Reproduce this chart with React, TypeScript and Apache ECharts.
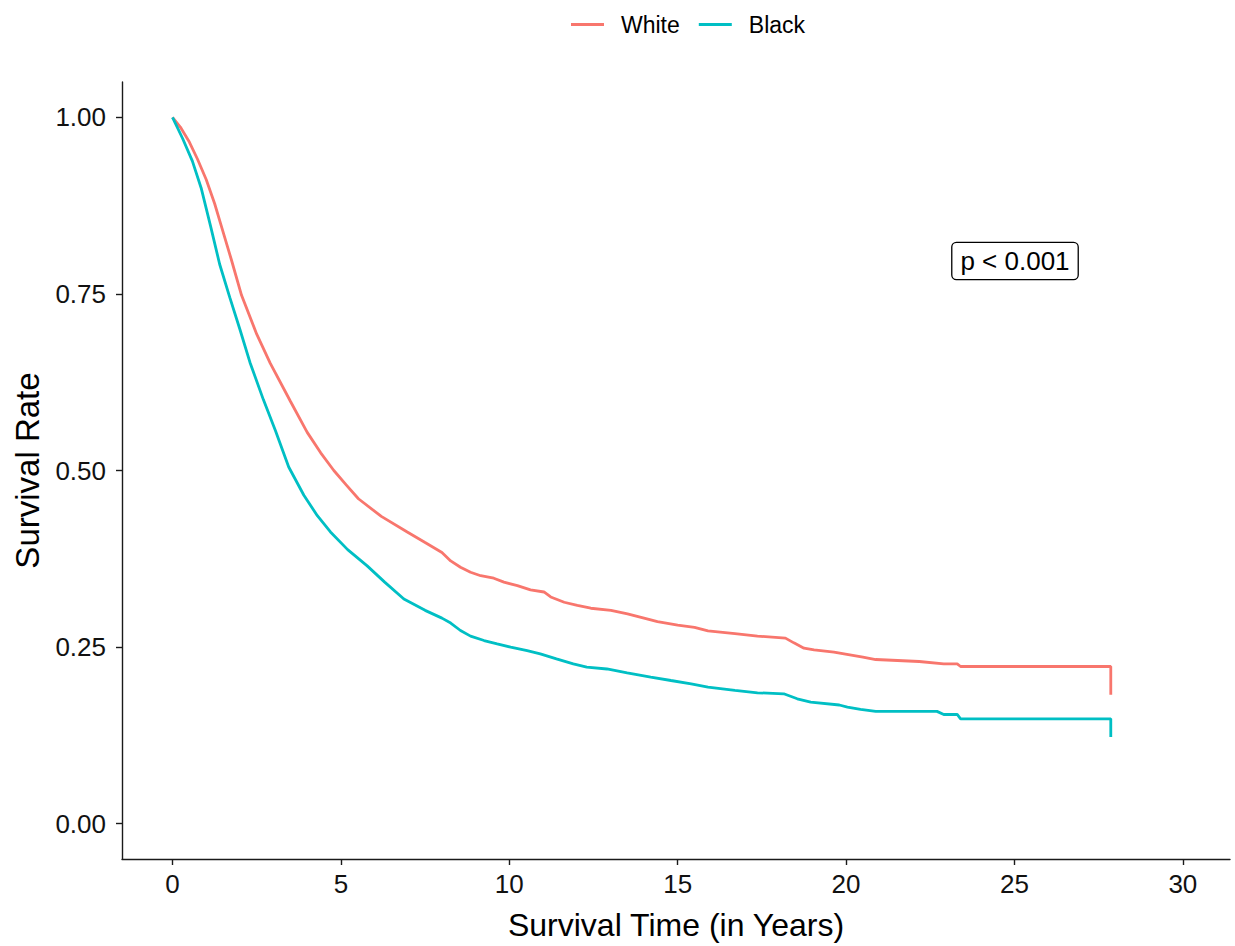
import React, { useEffect, useRef } from "react";
import * as echarts from "echarts";

const seriesNames = ["White", "Black"];
const seriesColors = ["#F8766D", "#00BFC4"];

const whiteTime = [0, 0.25, 0.5, 0.74, 1.0, 1.25, 1.45, 1.75, 2.05, 2.5, 2.9, 3.5, 4.0, 4.4, 4.79, 5.15, 5.52, 6.2, 6.97, 7.5, 8.0, 8.26, 8.55, 8.85, 9.15, 9.54, 9.84, 10.24, 10.63, 11.03, 11.23, 11.63, 12.02, 12.42, 13.02, 13.51, 14.0, 14.4, 15.0, 15.5, 15.9, 16.7, 17.37, 18.2, 18.45, 18.75, 19.05, 19.64, 19.94, 20.5, 20.88, 22.17, 22.9, 23.3, 23.4, 27.86, 27.86];
const whiteSurv = [1, 0.985, 0.965, 0.941, 0.912, 0.878, 0.846, 0.798, 0.748, 0.693, 0.652, 0.598, 0.554, 0.525, 0.5, 0.48, 0.46, 0.435, 0.413, 0.398, 0.384, 0.372, 0.363, 0.356, 0.351, 0.3475, 0.342, 0.337, 0.331, 0.328, 0.321, 0.3135, 0.309, 0.305, 0.302, 0.297, 0.291, 0.286, 0.281, 0.278, 0.273, 0.269, 0.2655, 0.2627, 0.256, 0.2485, 0.246, 0.243, 0.2405, 0.2357, 0.2324, 0.2296, 0.2263, 0.2263, 0.2225, 0.2225, 0.1825];

const blackTime = [0, 0.3, 0.59, 0.85, 1.13, 1.4, 1.7, 2.0, 2.3, 2.7, 3.06, 3.45, 3.9, 4.3, 4.69, 5.2, 5.78, 6.3, 6.87, 7.5, 8.0, 8.26, 8.55, 8.85, 9.25, 9.64, 10.04, 10.53, 10.92, 11.4, 11.9, 12.3, 12.9, 13.5, 14.2, 14.8, 15.4, 15.9, 16.7, 17.37, 18.15, 18.55, 18.95, 19.8, 20.04, 20.43, 20.88, 22.7, 22.9, 23.3, 23.4, 27.86, 27.86];
const blackSurv = [1, 0.97, 0.938, 0.9, 0.846, 0.792, 0.745, 0.7, 0.653, 0.6, 0.556, 0.505, 0.465, 0.436, 0.413, 0.388, 0.365, 0.342, 0.318, 0.302, 0.291, 0.284, 0.2735, 0.2655, 0.2593, 0.2546, 0.25, 0.245, 0.2405, 0.2334, 0.2263, 0.2216, 0.219, 0.2136, 0.2075, 0.2027, 0.198, 0.1933, 0.1886, 0.1853, 0.1839, 0.1768, 0.172, 0.168, 0.165, 0.1617, 0.159, 0.159, 0.1546, 0.1546, 0.1485, 0.1485, 0.1226];

const xTicks = [0, 5, 10, 15, 20, 25, 30];
const yTicks = [0, 0.25, 0.5, 0.75, 1.0];
const xTitle = "Survival Time (in Years)";
const yTitle = "Survival Rate";
const pLabel = "p < 0.001";

const FONT = "'Liberation Sans', Arial, Helvetica, sans-serif";

export default function App() {
  const ref = useRef<HTMLDivElement>(null);

  useEffect(() => {
    if (!ref.current) return;
    const chart = echarts.init(ref.current, null, { renderer: "svg" });
    const pairs = (t: number[], s: number[]) => t.map((v, i) => [v, s[i]]);
    const allData = [pairs(whiteTime, whiteSurv), pairs(blackTime, blackSurv)];

    chart.setOption({
      animation: false,
      backgroundColor: "#ffffff",
      legend: {
        data: seriesNames.map((n, i) => ({ name: n, icon: "rect", itemStyle: { color: seriesColors[i] } })),
        left: 566,
        top: 8,
        itemWidth: 33,
        itemHeight: 3,
        itemGap: 19,
        textStyle: { fontSize: 23, color: "#000", fontFamily: FONT, padding: [0, 0, 0, 12] },
      },
      grid: { left: 122, right: 5, top: 82, bottom: 87 },
      xAxis: {
        type: "value",
        min: -1.5,
        max: 31.4,
        name: xTitle,
        nameLocation: "middle",
        nameGap: 50,
        nameTextStyle: { fontSize: 32, color: "#000", fontFamily: FONT },
        axisLine: { show: true, onZero: false, lineStyle: { color: "#1a1a1a", width: 1.4 } },
        axisTick: { show: true, length: 6, lineStyle: { color: "#1a1a1a", width: 1.4 }, customValues: xTicks },
        axisLabel: { fontSize: 26, color: "#111", fontFamily: FONT, margin: 12, customValues: xTicks },
        splitLine: { show: false },
      },
      yAxis: {
        type: "value",
        min: -0.05,
        max: 1.05,
        name: yTitle,
        nameLocation: "middle",
        nameGap: 78,
        nameTextStyle: { fontSize: 33, color: "#000", fontFamily: FONT },
        axisLine: { show: true, onZero: false, lineStyle: { color: "#1a1a1a", width: 1.4 } },
        axisTick: { show: true, length: 6, lineStyle: { color: "#1a1a1a", width: 1.4 }, customValues: yTicks },
        axisLabel: {
          fontSize: 26,
          color: "#111",
          fontFamily: FONT,
          margin: 16,
          customValues: yTicks,
          formatter: (v: number) => v.toFixed(2),
        },
        splitLine: { show: false },
      },
      graphic: [
        {
          type: "text",
          x: 1015,
          y: 261,
          style: {
            text: pLabel,
            fontSize: 26,
            fontFamily: FONT,
            fill: "#000",
            align: "center",
            verticalAlign: "middle",
            backgroundColor: "#fff",
            borderColor: "#000",
            borderWidth: 1.3,
            borderRadius: 4,
            padding: [5, 8, 5, 8],
          },
          z: 100,
        },
      ],
      series: seriesNames.map((name, i) => ({
        name,
        type: "line",
        symbol: "none",
        data: allData[i],
        color: seriesColors[i],
        lineStyle: { color: seriesColors[i], width: 2.8 },
        itemStyle: { color: seriesColors[i] },
      })),
    });

    return () => chart.dispose();
  }, []);

  return (
    <div
      ref={ref}
      style={{ position: "fixed", left: 0, top: 0, width: "1235px", height: "946px" }}
    />
  );
}
